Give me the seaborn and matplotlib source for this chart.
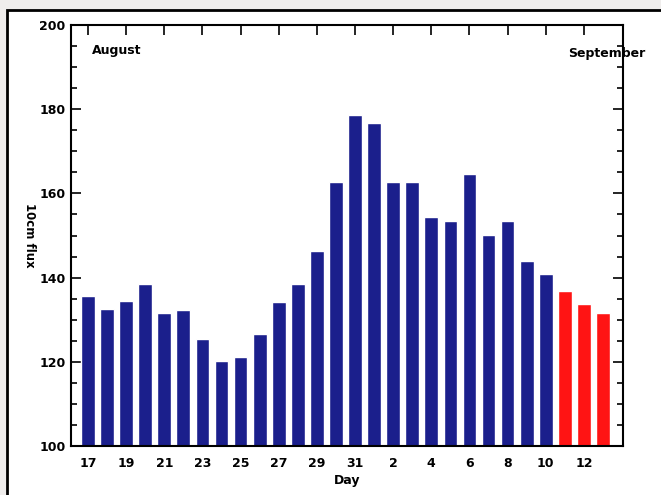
import matplotlib
matplotlib.use('Agg')
import matplotlib.pyplot as plt
from matplotlib.patches import Rectangle
from matplotlib.ticker import MultipleLocator
import seaborn as sns
import pandas as pd
import numpy as np

# 10cm radio flux, 17 Aug - 13 Sep
days = [17, 18, 19, 20, 21, 22, 23, 24, 25, 26, 27, 28, 29, 30, 31,
        1, 2, 3, 4, 5, 6, 7, 8, 9, 10, 11, 12, 13]
flux = [135.6, 132.5, 134.5, 138.5, 131.5, 132.3, 125.5, 120.3, 121.2, 126.5,
        134.2, 138.4, 146.2, 162.6, 178.7, 176.8, 162.6, 162.6, 154.3, 153.4,
        164.5, 150.2, 153.4, 144.0, 140.9, 136.8, 133.7, 131.6]
kind = ['observed'] * 25 + ['forecast'] * 3
tick_days = [17, 19, 21, 23, 25, 27, 29, 31, 2, 4, 6, 8, 10, 12]

df = pd.DataFrame({'pos': np.arange(len(days)), 'flux': flux, 'kind': kind})

sns.set_style('white')
plt.rcParams['font.family'] = ['DejaVu Sans']
plt.rcParams.update({'text.color': 'black', 'axes.labelcolor': 'black',
                     'xtick.color': 'black', 'ytick.color': 'black'})

fig = plt.figure(figsize=(6.61, 4.95), dpi=100)
fig.patch.set_facecolor('#efedec')
# white panel with black frame (scan border)
fig.patches.append(Rectangle((7 / 661, -0.1), 1.2, (495 - 10) / 495 + 0.1,
                             transform=fig.transFigure, facecolor='white',
                             edgecolor='black', linewidth=2, zorder=-10))

ax = fig.add_axes([71 / 661, 49 / 495, 552 / 661, 421 / 495])
ax.set_zorder(1)
ax.set_facecolor('white')

sns.barplot(data=df, x='pos', y='flux', hue='kind',
            palette={'observed': '#1b1f8c', 'forecast': '#ff1414'},
            dodge=False, width=0.72, legend=False, ax=ax, saturation=1)

ax.set_ylim(100, 200)
ax.set_xlim(-0.89, 28.05)
ax.yaxis.set_major_locator(MultipleLocator(20))
ax.yaxis.set_minor_locator(MultipleLocator(5))

tick_pos = [days.index(d) if i < 8 else 15 + days[15:].index(d)
            for i, d in enumerate(tick_days)]
ax.set_xticks(tick_pos)
ax.set_xticklabels([str(d) for d in tick_days])

ax.tick_params(axis='x', which='major', direction='in', length=7, width=1.2,
               top=True, bottom=True, pad=8, labelsize=9)
ax.tick_params(axis='y', which='major', direction='in', length=7, width=1.2,
               left=True, right=True, pad=4, labelsize=9)
ax.tick_params(axis='y', which='minor', direction='in', length=4, width=1.2,
               left=True, right=True)
for lab in ax.get_xticklabels() + ax.get_yticklabels():
    lab.set_fontweight('bold')

for s in ax.spines.values():
    s.set_visible(True)
    s.set_color('black')
    s.set_linewidth(1.5)

ax.set_xlabel('Day', fontsize=9, fontweight='bold', labelpad=3)
ax.set_ylabel('10cm flux', fontsize=8.5, fontweight='bold',
              rotation=270, va='center')
ax.yaxis.set_label_coords(-41 / 552, 0.5)

ax.text(0.038, 0.94, 'August', transform=ax.transAxes, fontsize=9,
        fontweight='bold', va='center', ha='left')
ax.text(0.90, 0.933, 'September', transform=ax.transAxes, fontsize=9,
        fontweight='bold', va='center', ha='left', clip_on=False)

fig.savefig('out.png', dpi=100, facecolor=fig.get_facecolor())
